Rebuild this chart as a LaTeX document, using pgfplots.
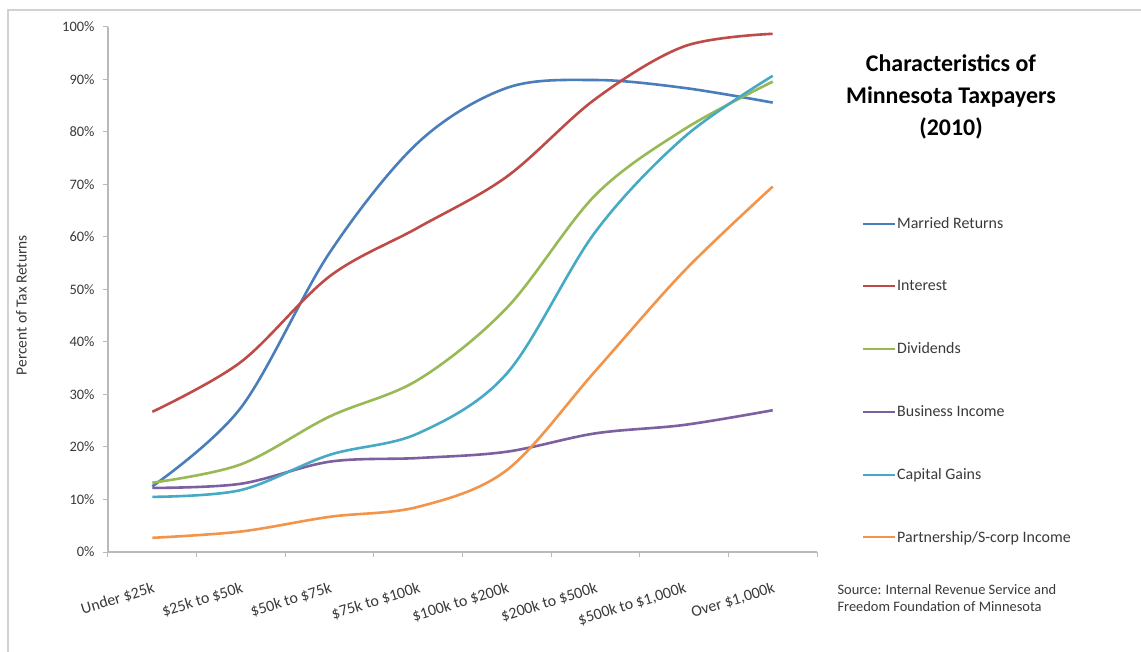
\documentclass[border=0pt]{standalone}
\usepackage{pgfplots}
\pgfplotsset{compat=1.18}
\usepackage{fontspec}
\setmainfont{Carlito}
\definecolor{cBlue}{HTML}{4A7EBB}
\definecolor{cRed}{HTML}{BE4B48}
\definecolor{cGreen}{HTML}{98B954}
\definecolor{cPurple}{HTML}{7D60A0}
\definecolor{cCyan}{HTML}{46AAC5}
\definecolor{cOrange}{HTML}{F39449}
\definecolor{txt}{HTML}{3A3A3A}
\begin{document}
\begin{tikzpicture}
\useasboundingbox (-108bp,-100bp) rectangle (1033bp,552bp);
\fill[white] (-108bp,-100bp) rectangle (1033bp,552bp);
\draw[gray!35, line width=1.5bp] (-100bp,-100bp) -- (-100bp,542bp) -- (1033bp,542bp);
\begin{axis}[
  width=709bp, height=525bp, scale only axis,
  xmin=-0.5, xmax=7.5, ymin=0, ymax=100,
  axis lines*=left,
  axis line style={gray!55, line width=1.2bp},
  tick style={gray!55, line width=1bp},
  tick align=outside, major tick length=5bp, minor tick length=5bp,
  xtick={0,1,2,3,4,5,6,7},
  xticklabels={Under \$25k,\$25k to \$50k,\$50k to \$75k,\$75k to \$100k,\$100k to \$200k,\$200k to \$500k,\$500k to \$1{,}000k,Over \$1{,}000k},
  major x tick style={draw=none},
  minor xtick={-0.5,0.5,1.5,2.5,3.5,4.5,5.5,6.5,7.5},
  x tick label style={rotate=17, anchor=north east, font=\fontsize{16}{18}\selectfont, text=txt, xshift=-4bp, yshift=-20bp},
  ytick={0,10,...,100},
  yticklabel={\pgfmathprintnumber{\tick}\%},
  /pgf/number format/assume math mode=true,
  y tick label style={font=\fontsize{14.5}{16}\selectfont, text=txt, xshift=-5bp},
  ylabel={Percent of Tax Returns},
  ylabel style={font=\fontsize{15.5}{17}\selectfont, text=txt, at={(axis description cs:-0.122,0.47)}, anchor=center, rotate=0},
  legend cell align=left,
  legend style={draw=none, fill=none, at={(1.0635,0.639)}, anchor=north west,
    row sep=48.3bp, inner sep=0pt, font=\fontsize{16}{18}\selectfont, text=txt,
    nodes={inner sep=1bp}},
  /tikz/every odd column/.append style={column sep=0pt},
  legend image code/.code={\draw[#1, line width=2bp] (0bp,0bp) -- (32bp,0bp);},
  every axis plot/.append style={line width=2.6bp, smooth, tension=0.55},
  clip=false,
]
\addplot[cBlue] coordinates {(0,12.5) (1,27.5) (2,57) (3,78) (4,88.4) (5,89.9) (6,88.4) (7,85.6)};
\addlegendentry{Married Returns}
\addplot[cRed] coordinates {(0,26.7) (1,36.2) (2,52.5) (3,61.8) (4,71.5) (5,86.3) (6,96.3) (7,98.7)};
\addlegendentry{Interest}
\addplot[cGreen] coordinates {(0,13.2) (1,16.7) (2,25.8) (3,32.8) (4,46.5) (5,68) (6,80.5) (7,89.6)};
\addlegendentry{Dividends}
\addplot[cPurple] coordinates {(0,12.2) (1,13) (2,17.2) (3,17.9) (4,19.1) (5,22.6) (6,24.2) (7,27)};
\addlegendentry{Business Income}
\addplot[cCyan] coordinates {(0,10.5) (1,11.8) (2,18.5) (3,22.6) (4,34) (5,61) (6,79) (7,90.7)};
\addlegendentry{Capital Gains}
\addplot[cOrange] coordinates {(0,2.7) (1,3.9) (2,6.7) (3,8.6) (4,15.6) (5,34.5) (6,53.5) (7,69.6)};
\addlegendentry{Partnership/S-corp Income}
\end{axis}
\node[font=\bfseries\fontsize{24}{32}\selectfont, align=center, text=black] at (843bp,455bp) {Characteristics of\\Minnesota Taxpayers\\(2010)};
\node[font=\fontsize{14.5}{17}\selectfont, align=left, anchor=west, text=txt] at (726bp,-46bp) {Source: Internal Revenue Service and\\Freedom Foundation of Minnesota};
\end{tikzpicture}
\end{document}
